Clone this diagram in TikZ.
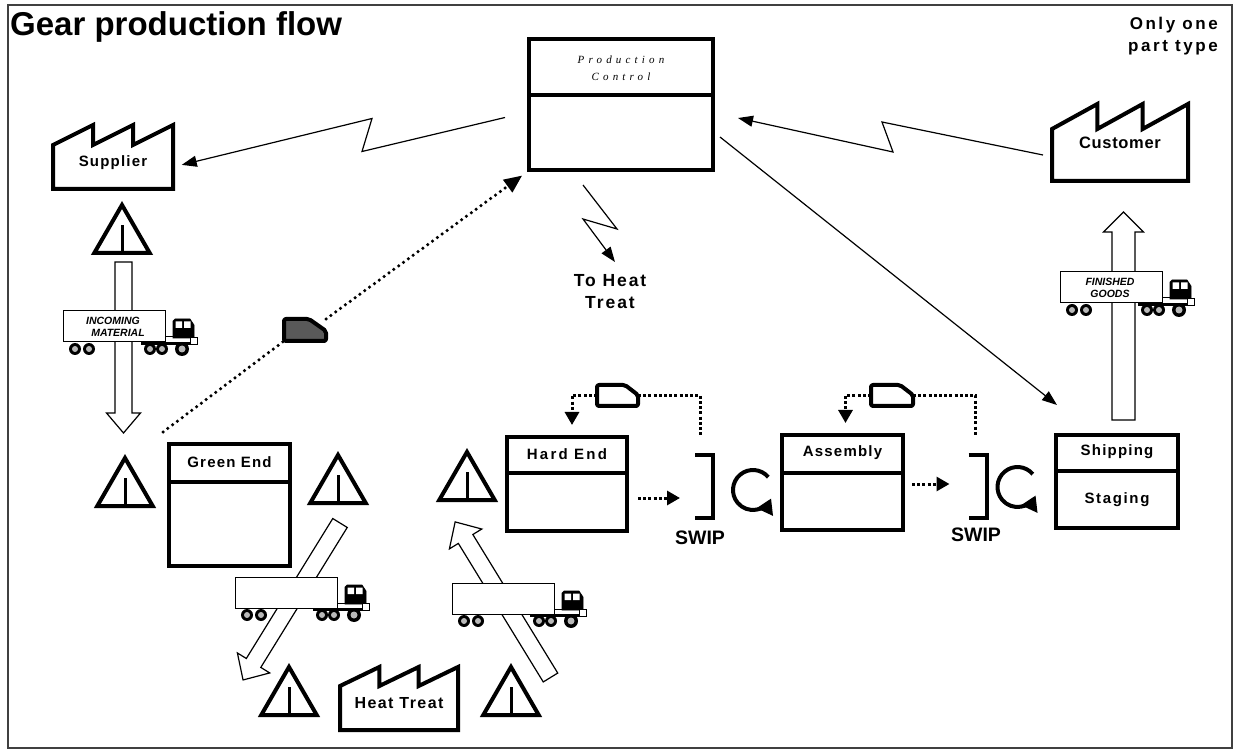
\documentclass[tikz,border=0pt]{standalone}
\usepackage{fontspec}
\setmainfont{Liberation Serif}
\setsansfont{Liberation Sans}
\usepackage{tikz}
\usetikzlibrary{arrows.meta,calc,shapes.geometric,positioning}

\tikzstyle{procbox} = [draw, line width=4pt, inner sep=0pt]
\tikzstyle{factory} = [inner sep=0pt, outer sep=0pt]
\tikzstyle{lbl} = [font={\sffamily\bfseries\fontsize{15}{18}\selectfont\addfontfeature{LetterSpace=8}}, inner sep=1pt]
\tikzstyle{biglbl} = [font={\sffamily\bfseries\fontsize{17}{22}\selectfont\addfontfeature{LetterSpace=11}}, inner sep=0pt, align=center]
\tikzstyle{invtri} = [draw, regular polygon, regular polygon sides=3, minimum size=64pt, inner sep=0pt, line width=4pt]
\tikzstyle{invbar} = [line width=3pt]
\tikzstyle{elec} = [line width=1.2pt, -{Triangle[length=15pt,width=11pt]}]
\tikzstyle{kanbandot} = [line width=3pt, dash pattern=on 3pt off 2.2pt]
\tikzstyle{kanbanarrow} = [kanbandot, -{Triangle[length=13pt,width=14pt]}]
\tikzstyle{pushdot} = [kanbandot, -{Triangle[length=13pt,width=14pt]}]
\tikzstyle{infodot} = [line width=3.5pt, dash pattern=on 0pt off 6pt, line cap=round]
\tikzstyle{card} = [minimum width=41pt, minimum height=21pt, inner sep=0pt, outer sep=0pt]
\tikzstyle{cardline} = [line width=4pt, rounded corners=2pt, line join=round]
\tikzstyle{shipline} = [line width=1.2pt, fill=white]
\tikzstyle{swipbox} = [minimum width=18pt, minimum height=63pt, inner sep=0pt, outer sep=0pt]
\tikzstyle{swiplbl} = [font={\sffamily\bfseries\fontsize{19.5}{22}\selectfont}, inner sep=0pt]
\tikzstyle{pullarrow} = [line width=4pt, -{Triangle[length=15pt,width=17pt]}]
\tikzstyle{trucktxt} = [font={\sffamily\bfseries\itshape\fontsize{10.5}{12}\selectfont}, inner sep=0pt, align=center]

% factory outline on top of an (undrawn) body node: name, tooth width, tooth height
\newcommand{\factoryline}[3]{%
  \draw[line width=4pt] (#1.south west) -- (#1.north west)
    -- ++(#2,-#3) -- ++(0,#3) -- ++(#2,-#3) -- ++(0,#3) -- ++(#2,-#3)
    -- (#1.south east) -- cycle;}

\tikzset{
  pics/truck/.style={code={
    % trailer
    \draw[line width=1pt, fill=white] (0,0) rectangle (102,31);
    \node[trucktxt] (-load) at (50,15.5) {#1};
    % coupling and frame
    \draw[line width=1pt] (102,26) -- (110,26);
    \fill (78,31) rectangle (131,34);
    % cab
    \filldraw[line width=.6pt] (110,27) -- (110,10) -- (112,8) -- (127,8) -- (131,14) -- (131,27) -- cycle;
    \fill[white] (112.5,10.5) rectangle (119,17) (121,10.5) rectangle (127.5,17);
    \draw[line width=.6pt, fill=white] (127,26) rectangle (134,33);
    % wheels
    \foreach \wx/\wr in {12/6,26/6,87/6,99/6,119/7}{
      \fill (\wx,38) circle (\wr);
      \fill[gray!55] (\wx,38) circle ({\wr/2});
    }
  }},
  pics/shiparrow/.style n args={3}{code={
    \draw[shipline] (0,-#2) -- (#1-20,-#2) -- (#1-20,-#3) -- (#1,0)
      -- (#1-20,#3) -- (#1-20,#2) -- (0,#2) -- cycle;
  }}
}

\begin{document}
\begin{tikzpicture}[x=1pt,y=-1pt]
\useasboundingbox (0,0) rectangle (1235,751);
\draw[line width=1.5pt, black!75] (8,5) rectangle (1232,748);

\node[anchor=base west, inner sep=0pt, font={\sffamily\bfseries\fontsize{33}{36}\selectfont}] (title) at (10,36) {Gear production flow};
\node[biglbl, anchor=north east, align=right, font={\sffamily\bfseries\fontsize{17}{22}\selectfont\addfontfeature{LetterSpace=15}}] (onepart) at (1218,17) {Only one\\part type};

% production control
\node[procbox, minimum width=184pt, minimum height=131pt] (pc) at (621,104.5) {};
\draw[line width=4pt] ([yshift=-58pt]pc.north west) -- ([yshift=-58pt]pc.north east);
\node[align=center, inner sep=0pt, font={\rmfamily\itshape\fontsize{11}{17}\selectfont\addfontfeature{LetterSpace=38}}] (pclbl) at ($(pc.north)+(0,31)$) {Production\\Control};

% outside companies
\node[factory, minimum width=120pt, minimum height=44pt] (supplier) at (113,167) {};
\factoryline{supplier}{40}{20}
\node[lbl] (supplierlbl) at ($(supplier)+(0,-4)$) {Supplier};

\node[factory, minimum width=136pt, minimum height=52pt] (customer) at (1120,155) {};
\factoryline{customer}{45.333}{25}
\node[lbl, font={\sffamily\bfseries\fontsize{16.5}{18}\selectfont\addfontfeature{LetterSpace=4}}] (customerlbl) at ($(customer)+(0,-12)$) {Customer};

\node[factory, minimum width=118pt, minimum height=44pt] (heattreat) at (399,708) {};
\factoryline{heattreat}{39.333}{19}
\node[lbl, font={\sffamily\bfseries\fontsize{16}{18}\selectfont\addfontfeature{LetterSpace=9}}] (heatlbl) at ($(heattreat)+(0,-5)$) {Heat Treat};

% processes
\node[procbox, minimum width=121pt, minimum height=122pt] (green) at (229.5,505) {};
\draw[line width=4pt] ([yshift=-40pt]green.north west) -- ([yshift=-40pt]green.north east);
\node[lbl] (greenlbl) at ($(green.north)+(0,20)$) {Green End};

\node[procbox, minimum width=120pt, minimum height=94pt] (hard) at (567,484) {};
\draw[line width=4pt] ([yshift=-38pt]hard.north west) -- ([yshift=-38pt]hard.north east);
\node[lbl, font={\sffamily\bfseries\fontsize{15}{18}\selectfont\addfontfeature{LetterSpace=15}}] (hardlbl) at ($(hard.north)+(0,19)$) {Hard End};

\node[procbox, minimum width=121pt, minimum height=95pt] (assembly) at (842.5,482.5) {};
\draw[line width=4pt] ([yshift=-40pt]assembly.north west) -- ([yshift=-40pt]assembly.north east);
\node[lbl] (assemblylbl) at ($(assembly.north)+(0,20)$) {Assembly};

\node[procbox, minimum width=122pt, minimum height=93pt] (shipping) at (1117,481.5) {};
\draw[line width=4pt] ([yshift=-38pt]shipping.north west) -- ([yshift=-38pt]shipping.north east);
\node[lbl] (shippinglbl) at ($(shipping.north)+(0,19)$) {Shipping};
\node[lbl, font={\sffamily\bfseries\fontsize{15}{18}\selectfont\addfontfeature{LetterSpace=11}}] (staginglbl) at ($(shipping.south)+(0,-30)$) {Staging};

% inventory
\node[invtri] (tsup) at (122,237) {};
\node[invtri] (tgl) at (125,490) {};
\node[invtri] (tgr) at (338,487) {};
\node[invtri] (thard) at (467,484) {};
\node[invtri] (thl) at (289,699) {};
\node[invtri] (thr) at (511,699) {};
\foreach \t in {tsup,tgl,tgr,thard,thl,thr}
  \draw[invbar] ($(\t.corner 1)!.45!(\t.side 2)$) -- (\t.side 2);

% shipments
\pic[rotate=-90] at (123.5,262) {shiparrow={171}{8.5}{17}};
\pic[rotate=90] at (1123.5,420) {shiparrow={208}{11.5}{20}};
\pic[rotate=-121.7] at (340,523) {shiparrow={184.5}{8.5}{19}};
\pic[rotate=121.5] at (550.5,677.5) {shiparrow={182.5}{8.5}{19}};

\pic (intruck) at (63,311) {truck={INCOMING\\\hspace*{10pt}MATERIAL}};
\pic (fgtruck) at (1060,272) {truck={FINISHED\\GOODS}};
\pic (outtruck) at (235,577) {truck={}};
\pic (backtruck) at (452,583) {truck={}};

% supermarkets
\node[swipbox] (swip1) at (704,486.5) {};
\draw[line width=4pt] (swip1.north west) -- (swip1.north east) -- (swip1.south east) -- (swip1.south west);
\node[swiplbl, below=13pt of swip1, xshift=-4pt] (swip1lbl) {SWIP};
\node[swipbox] (swip2) at (977.5,486) {};
\draw[line width=4pt] (swip2.north west) -- (swip2.north east) -- (swip2.south east) -- (swip2.south west);
\node[swiplbl, below=10pt of swip2, xshift=-1.5pt] (swip2lbl) {SWIP};

\coordinate (pull1) at ($(swip1.east)+(40,3.5)$);
\draw[pullarrow] (pull1) ++(-40:20) arc[start angle=-40, end angle=-335, radius=20];
\coordinate (pull2) at ($(swip2.east)+(31,1)$);
\draw[pullarrow] (pull2) ++(-40:20) arc[start angle=-40, end angle=-335, radius=20];

\draw[pushdot] ($(hard.east)+(9,14)$) -- ($(swip1.west)+(-15,11.5)$);
\draw[pushdot] ($(assembly.east)+(7,1.5)$) -- ($(swip2.west)+(-19,-2)$);

% withdrawal kanbans
\node[card] (wk1) at (617.5,395.5) {};
\draw[cardline] (wk1.south west) -- (wk1.north west) -- ([xshift=-13pt]wk1.north east) -- ([yshift=-10pt]wk1.north east) -- (wk1.south east) -- cycle;
\draw[kanbandot, shorten >=18pt] (wk1.east) -| ([xshift=-4pt]swip1.north);
\draw[kanbanarrow, shorten >=10pt] (wk1.west) -| ([xshift=5pt]hard.north);

\node[card, minimum width=42pt] (wk2) at (892,395.5) {};
\draw[cardline] (wk2.south west) -- (wk2.north west) -- ([xshift=-13pt]wk2.north east) -- ([yshift=-10pt]wk2.north east) -- (wk2.south east) -- cycle;
\draw[kanbandot, shorten >=18pt] (wk2.east) -| ([xshift=-2pt]swip2.north);
\draw[kanbanarrow, shorten >=10pt] (wk2.west) -| ([xshift=3pt]assembly.north);

% production kanban back to control
\node[card, minimum width=42pt, minimum height=22pt] (pk) at (305,330) {};
\draw[cardline, fill=black!65] (pk.south west) -- (pk.north west) -- ([xshift=-17pt]pk.north east) -- ([yshift=-12pt]pk.north east) -- (pk.south east) -- cycle;
\draw[infodot] ($(green.north west)+(-4,-10)$) -- (pk.south west);
\draw[infodot, shorten >=6pt, -{Triangle[length=18pt,width=15pt]}] (pk.north east) -- (pc.south west);

% electronic information
\node[biglbl, anchor=north, font={\sffamily\bfseries\fontsize{17.5}{22}\selectfont\addfontfeature{LetterSpace=11}}] (toheat) at (610,274) {To Heat\\Treat};
\draw[elec, shorten >=9pt] ($(pc.west)+(-22,13)$) -- ++(-143,34) -- ++(10,-33) -- (supplier.east);
\draw[elec] ($(customer.west)+(-9,0)$) -- ++(-161,-33) -- ++(11,30) -- ($(pc.east)+(23,13.5)$);
\draw[elec] ($(pc.east)+(5,32.5)$) -- ($(shipping.north west)+(3,-28)$);
\draw[elec] ($(pc.south)+(-38,13)$) -- ++(34,44) -- ++(-34,-10) -- ($(toheat.north)+(5,-12)$);

\end{tikzpicture}
\end{document}
